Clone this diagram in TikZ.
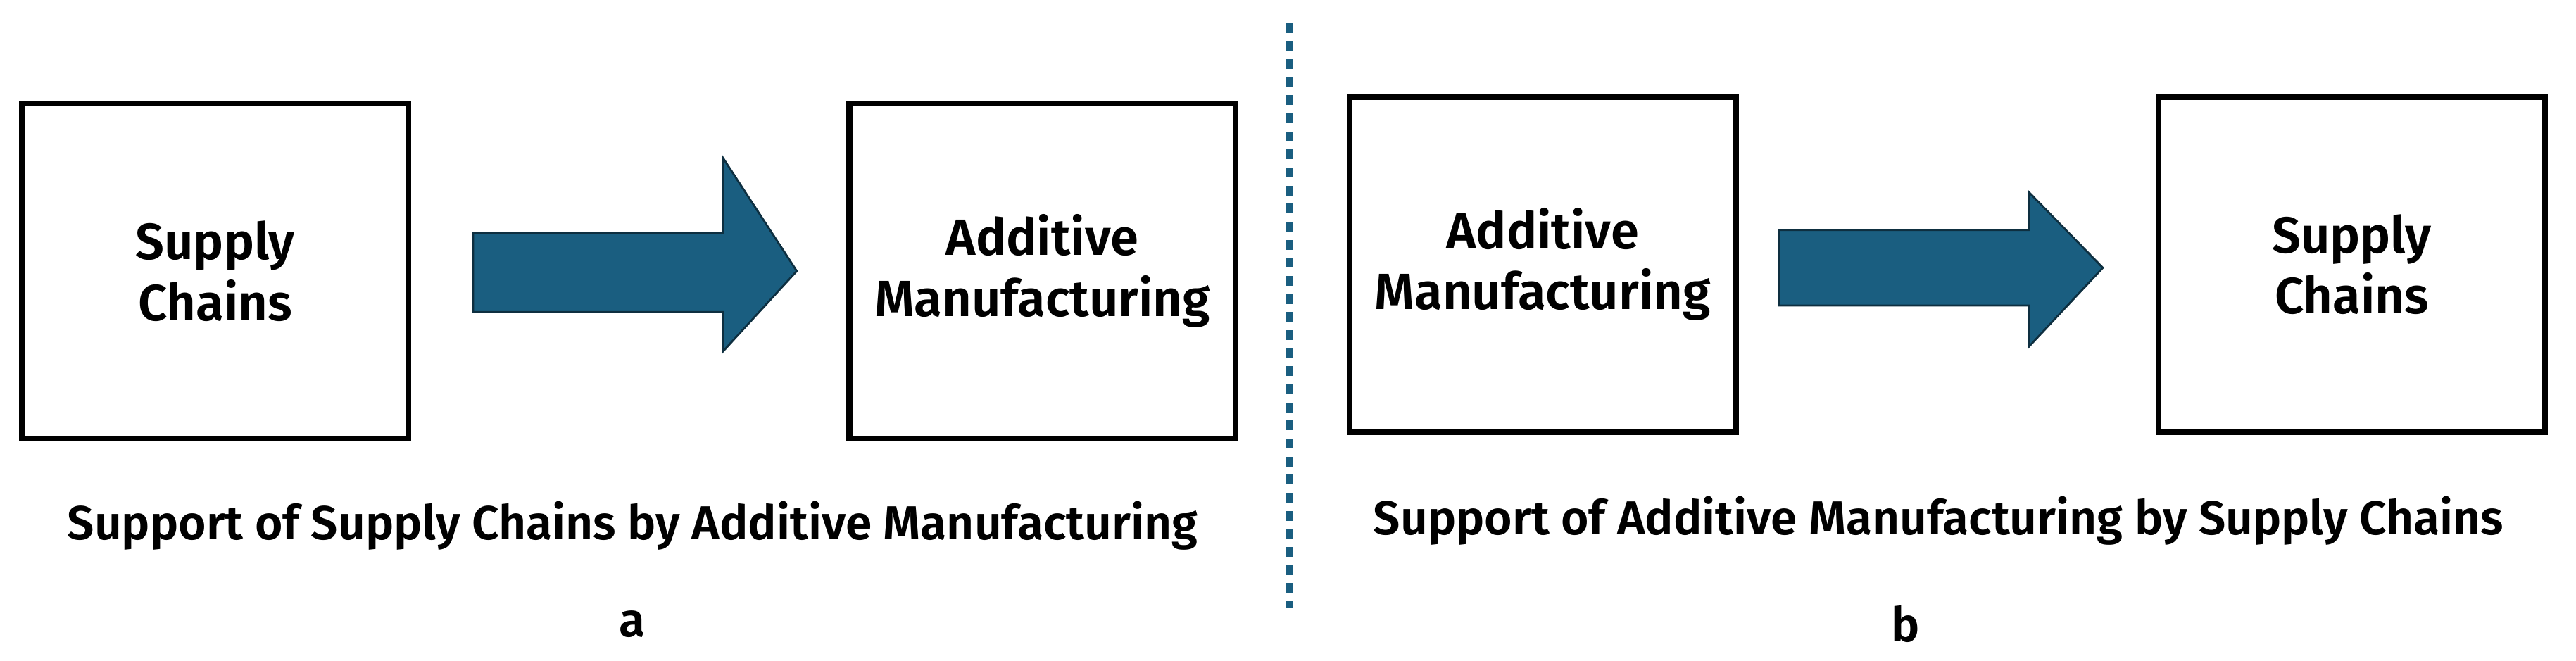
\documentclass[tikz,border=0pt]{standalone}
\usepackage{fontspec}
\setmainfont{Fira Sans}[BoldFont={Fira Sans SemiBold}]
\definecolor{arrowblue}{HTML}{1A5E80}
\definecolor{arrowedge}{HTML}{0E2F40}
\begin{document}
\begin{tikzpicture}[x=1pt,y=1pt,
    box/.style={draw, line width=3.5pt, minimum width=235pt, minimum height=204pt, align=center, font=\fontsize{31}{37}\selectfont\bfseries},
    bigarrow/.style={fill=arrowblue, draw=arrowedge, line width=1.2pt, line join=miter},
    caption/.style={font=\fontsize{29}{34}\selectfont\bfseries},
  ]
  \useasboundingbox (0,0) rectangle (1568,402);

  % Panel a
  \node[box] (sc1) at (131,237) {Supply\\Chains};
  \node[box] (am1) at (634.5,237) {Additive\\Manufacturing};
  \draw[bigarrow] (288,260) -- (440,260) -- (440,306) -- (485,237) -- (440,188)
    -- (440,212) -- (288,212) -- cycle;
  \node[caption] (capa) at (385,82) {Support of Supply Chains by Additive Manufacturing};
  \node[caption] (laba) at (385,22) {a};

  % Divider
  \coordinate (top) at (785,388);
  \coordinate (bot) at (785,32);
  \draw[arrowblue, line width=4pt, dash pattern=on 6pt off 5pt] (top) -- (bot);

  % Panel b
  \node[box] (am2) at (939,241) {Additive\\Manufacturing};
  \node[box] (sc2) at (1431.5,241) {Supply\\Chains};
  \draw[bigarrow] (1083,262) -- (1235,262) -- (1235,285) -- (1280,239) -- (1235,191)
    -- (1235,216) -- (1083,216) -- cycle;
  \node[caption] (capb) at (1180,85) {Support of Additive Manufacturing by Supply Chains};
  \node[caption] (labb) at (1160,22) {b};
\end{tikzpicture}
\end{document}
